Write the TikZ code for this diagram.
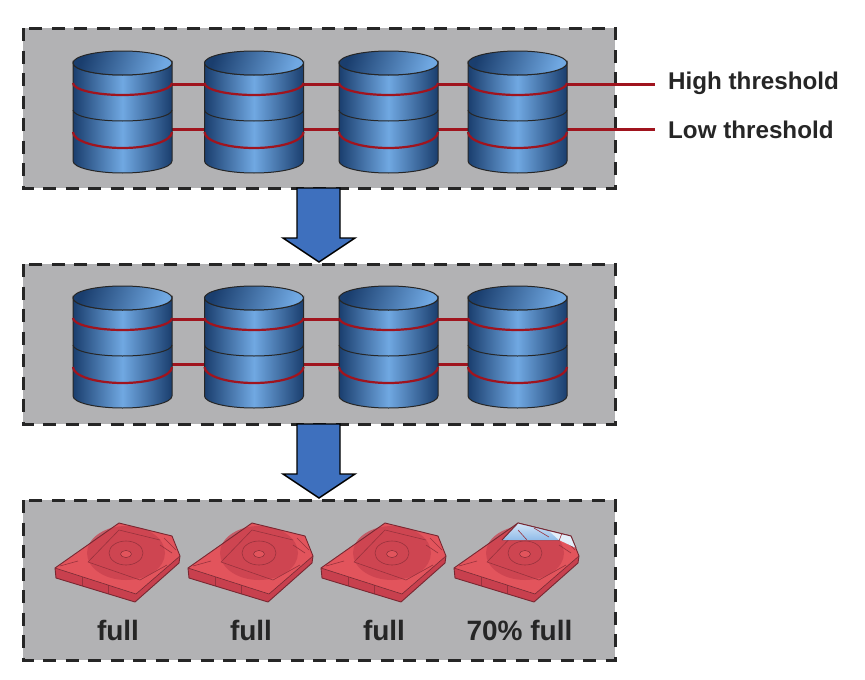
\documentclass[tikz,border=0pt]{standalone}
\usepackage{fontspec}
\setmainfont{Liberation Sans}
\usetikzlibrary{calc}
\definecolor{panelgray}{RGB}{178,178,180}
\definecolor{cyldark}{RGB}{26,62,110}
\definecolor{cylmid}{RGB}{46,100,164}
\definecolor{cyllight}{RGB}{112,168,226}
\definecolor{arrowblue}{RGB}{62,112,190}
\definecolor{threshred}{RGB}{160,20,30}
\definecolor{diskred}{RGB}{226,84,92}
\definecolor{diskdark}{RGB}{200,64,78}
\definecolor{diskedge}{RGB}{120,40,50}
\tikzset{
    panel/.style={fill=panelgray,draw=black!85,line width=3pt,dash pattern=on 13pt off 9.5pt},
    thresh/.style={draw=threshred,line width=3pt},
    bigarrow/.style={fill=arrowblue,draw=black,line width=1.4pt,line join=miter},
    cylbody/.style={draw=black!85,line width=1pt,left color=cyldark,right color=cyldark,middle color=cyllight},
    cyltop/.style={draw=black!85,line width=1pt,left color=cyldark,right color=cyllight,shading angle=70},
    boldtext/.style={font=\bfseries\fontsize{24.2}{28}\selectfont,text=black!85,inner sep=0pt},
    capttext/.style={font=\bfseries\fontsize{28}{32}\selectfont,text=black!85,inner sep=0pt},
    disklines/.style={draw=diskedge!60!diskdark,line width=.6pt},
}
% one cylinder: centre x, top y
\newcommand{\drum}[2]{
    \begin{scope}[shift={(#1,#2)}]
        \path[cylbody](-49.5,12)--(-49.5,110) arc[start angle=180,end angle=0,x radius=49.5,y radius=12]
            --(49.5,12) arc[start angle=0,end angle=180,x radius=49.5,y radius=12]--cycle;
        \path[cyltop](0,12) ellipse[x radius=49.5,y radius=12];
        \draw[line width=1pt,black!85](-49.5,59) arc[start angle=180,end angle=0,x radius=49.5,y radius=11];
        \draw[line width=2.2pt,threshred](-49.5,32) arc[start angle=180,end angle=0,x radius=49.5,y radius=12];
        \draw[line width=2.2pt,threshred](-49.5,81) arc[start angle=180,end angle=0,x radius=49.5,y radius=16];
    \end{scope}
}
% one cartridge: x shift
\newcommand{\platter}[1]{
    \begin{scope}[xshift=#1]
        \fill[diskdark](55,568)--(56,578)--(135,602)--(179,563)--(180,556)--(136,594)--cycle;
        \fill[diskred](119,523)--(172,536)--(180,556)--(136,594)--(55,568)--cycle;
        \fill[diskdark,fill opacity=.75](126,553) ellipse[x radius=39,y radius=27];
        \draw[disklines](126,553) ellipse[x radius=17,y radius=12];
        \fill[diskred,draw=diskedge,line width=.4pt](126,554) ellipse[x radius=5.5,y radius=3.5];
        \draw[disklines](88,562)--(119,530)--(160,540);
        \draw[disklines](88,562)--(140,580)--(167,565);
        \draw[disklines](60,566)--(78,561);
        \draw[disklines](164,538)--(176,550) (160,545)--(172,553);
        \draw[disklines](82,577)--(82,586) (108,585)--(108,594);
        \draw[draw=diskedge,line width=.9pt,line join=round](119,523)--(172,536)--(180,556)--(179,563)--(135,602)--(56,578)--(55,568)--cycle;
        \draw[draw=diskedge,line width=.6pt](55,568)--(136,594)--(180,556);
    \end{scope}
}

\begin{document}
\begin{tikzpicture}[x=1pt,y=-1pt]
    \useasboundingbox[fill=white](0,0)rectangle(865,680);
    % three panels
    \foreach \y in {28,264,500}
    \draw[panel](23,\y)rectangle++(592,160);
    % arrows between panels
    \foreach \y in {188,424}
    \draw[bigarrow](297,\y)--++(43,0)--++(0,50)--++(15,0)--++(-36,24)--++(-36,-24)--++(14,0)--cycle;
    % threshold lines run behind the cylinders
    \node[boldtext,anchor=west](high)at(668,83){High threshold};
    \node[boldtext,anchor=west](low)at(668,130){Low threshold};
    \coordinate(hione)at(122,84);
    \coordinate(loone)at(122,129);
    \coordinate(hitwo)at(122,319);
    \coordinate(lotwo)at(122,364);
    \coordinate(hiend)at(517,319);
    \coordinate(loend)at(517,364);
    \draw[thresh](hione)--($(high.west)+(-13,1)$);
    \draw[thresh](loone)--($(low.west)+(-13,-1)$);
    \draw[thresh](hitwo)--(hiend);
    \draw[thresh](lotwo)--(loend);
    \foreach \y in {51,286}{
        \foreach \x in {122.5,254,388.5,517.5}{\drum{\x}{\y}}
    }
    % cartridges
    \foreach \s/\tex/\lx in {0pt/full/118,133pt/full/251,266pt/full/384,399pt/70\% full/519.5}{
        \platter{\s}
        \node[capttext,anchor=base](lab\lx)at(\lx,640){\tex};
    }
    % the part of the last one that is still empty
    \begin{scope}[xshift=399pt]
        \fill[top color=white!70!cyllight,bottom color=cyllight](119,523)--(172,536)--(177,548)--(162,540)--(103,540)--cycle;
        \fill[white!80!cyllight](150,531)--(172,536)--(177,548)--(160,540)--cycle;
        \draw[draw=diskedge,line width=.9pt](103,540)--(119,523)--(172,536)--(177,548);
        \draw[disklines](119,530)--(128,540) (163,533)--(160,541) (135,528)--(150,537);
    \end{scope}
\end{tikzpicture}
\end{document}
